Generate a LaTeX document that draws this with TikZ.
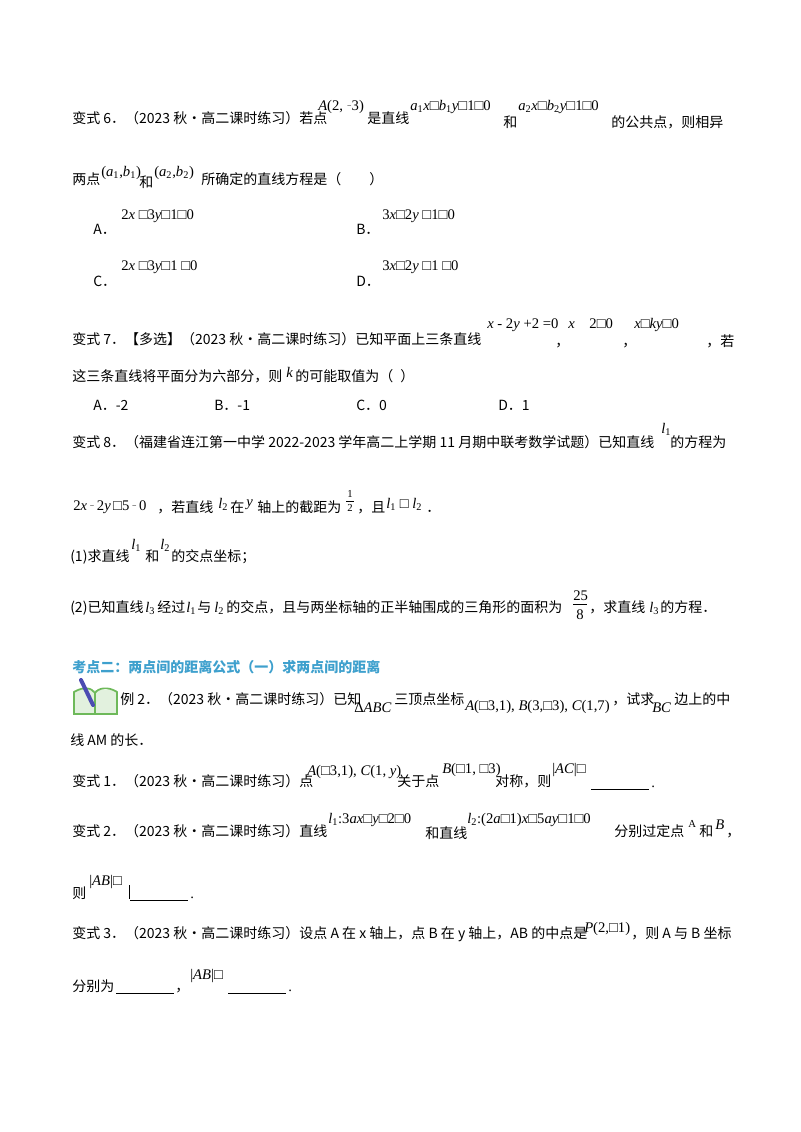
\documentclass[tikz,border=0pt]{standalone}
\usepackage{fontspec}
\setmainfont{Liberation Serif}
\newfontfamily\cjk{Noto Sans CJK SC}
\newfontfamily\dv{DejaVu Sans}
\definecolor{headblue}{RGB}{62,160,205}
\definecolor{bookgreen}{RGB}{110,185,90}
\newcommand{\mi}[1]{{\itshape #1}}
\newcommand{\um}{{\dv\fontsize{7}{8}\selectfont ⁻}}
\tikzset{
  txt/.style={anchor=base west,inner sep=0pt,font=\cjk\fontsize{10.5}{12}\selectfont},
  sup/.style={anchor=base west,inner sep=0pt,font=\fontsize{11}{12}\selectfont},
  blank/.style={line width=0.6pt},
}
\begin{document}
\begin{tikzpicture}[x=0.75pt,y=-0.75pt]
\useasboundingbox (0,0) rectangle (800,1132);
% 变式6
\node[txt] (q6a) at (72,123) {变式 6．（2023 秋·高二课时练习）若点};
\node[sup] (q6b) at (318,110) {\mi{A}(2, \um3)};
\node[txt] (q6c) at (367,123) {是直线};
\node[sup] (q6d) at (410,110) {\mi{a}\textsubscript{1}\mi{x}□\mi{b}\textsubscript{1}\mi{y}□1□0};
\node[txt] (q6e) at (503,127) {和};
\node[sup] (q6f) at (518,110) {\mi{a}\textsubscript{2}\mi{x}□\mi{b}\textsubscript{2}\mi{y}□1□0};
\node[txt] (q6g) at (611,127) {的公共点，则相异};
\node[txt] (q6h) at (72,184) {两点};
\node[sup] (q6i) at (101,176) {(\mi{a}\textsubscript{1},\mi{b}\textsubscript{1})};
\node[txt] (q6j) at (139,187) {和};
\node[sup] (q6k) at (154,176) {(\mi{a}\textsubscript{2},\mi{b}\textsubscript{2})};
\node[txt] (q6l) at (201,184) {所确定的直线方程是（\qquad ）};
\node[txt] (o6a) at (93,234) {A．};
\node[sup] at (121,219) {2\mi{x} □3\mi{y}□1□0};
\node[txt] (o6b) at (356,234) {B．};
\node[sup] at (382,219) {3\mi{x}□2\mi{y} □1□0};
\node[txt] (o6c) at (93,286) {C．};
\node[sup] at (121,270) {2\mi{x} □3\mi{y}□1 □0};
\node[txt] (o6d) at (356,286) {D．};
\node[sup] at (382,270) {3\mi{x}□2\mi{y} □1 □0};
% 变式7
\node[txt] (q7a) at (72,344) {变式 7．【多选】（2023 秋·高二课时练习）已知平面上三条直线};
\node[sup] at (487,328) {\mi{x} - 2\mi{y} +2 =0};
\node[txt] at (555,346) {，};
\node[sup] at (568,328) {\mi{x}\quad 2□0};
\node[txt] at (622,346) {，};
\node[sup] at (634,328) {\mi{x}□\mi{ky}□0};
\node[txt] at (706,346) {，若};
\node[txt] (q7b) at (72,381) {这三条直线将平面分为六部分，则};
\node[sup] at (286,377) {\mi{k}};
\node[txt] at (295,381) {的可能取值为（\enspace）};
\node[txt] at (93,410) {A．-2};
\node[txt] at (214,410) {B．-1};
\node[txt] at (356,410) {C．0};
\node[txt] at (498,410) {D．1};
% 变式8
\node[txt] (q8a) at (72,447) {变式 8．（福建省连江第一中学 2022-2023 学年高二上学期 11 月期中联考数学试题）已知直线};
\node[sup] at (661,433) {\mi{l}\textsubscript{1}};
\node[txt] at (670,447) {的方程为};
\node[sup] (q8b) at (73,510) {2\mi{x}\,\um\,2\mi{y}\,□5\,\um\,0};
\node[txt] at (157,512) {，若直线};
\node[sup] at (218,508) {\mi{l}\textsubscript{2}};
\node[txt] at (230,512) {在};
\node[sup] at (246,506) {\mi{y}};
\node[txt] at (257,512) {轴上的截距为};
\node[sup,font=\fontsize{8}{9}\selectfont] (half1) at (347,497) {1};
\draw (346,501) -- (354,501);
\node[sup,font=\fontsize{8}{9}\selectfont] (half2) at (347,511) {2};
\node[txt] at (357,512) {，且};
\node[sup] at (386,508) {\mi{l}\textsubscript{1} □ \mi{l}\textsubscript{2}};
\node[txt] at (426,512) {．};
\node[txt] (q8c) at (70,561) {(1)求直线};
\node[sup] at (131,549) {\mi{l}\textsubscript{1}};
\node[txt] at (145,561) {和};
\node[sup] at (160,549) {\mi{l}\textsubscript{2}};
\node[txt] at (171,561) {的交点坐标；};
\node[txt] (q8d) at (70,612) {(2)已知直线};
\node[sup] at (145,612) {\mi{l}\textsubscript{3}};
\node[txt] at (157,612) {经过};
\node[sup] at (186,612) {\mi{l}\textsubscript{1}};
\node[txt] at (197,612) {与};
\node[sup] at (214,612) {\mi{l}\textsubscript{2}};
\node[txt] at (226,612) {的交点，且与两坐标轴的正半轴围成的三角形的面积为};
\node[sup] (fr) at (573,600) {25};
\draw (573,604) -- (587,604);
\node[sup] at (576,619) {8};
\node[txt] at (589,612) {，求直线};
\node[sup] at (649,612) {\mi{l}\textsubscript{3}};
\node[txt] at (660,612) {的方程．};
% 考点二
\node[txt,text=headblue,font=\cjk\bfseries\fontsize{10.5}{12}\selectfont] (h2) at (72,672) {考点二：两点间的距离公式（一）求两点间的距离};
\fill[bookgreen!20] (74,690) rectangle (117,714);
\draw[bookgreen,line width=1.3pt] (74,692) .. controls (84,686) and (92,688) .. (95,693) .. controls (98,688) and (108,686) .. (117,692) -- (117,714) -- (74,714) -- cycle;
\draw[bookgreen,line width=1pt] (95,693) -- (95,714);
\draw[gray!60!blue,line width=3pt,line cap=round] (81,680) -- (93,705);
% 例2
\node[txt] (e2a) at (120,704) {例 2．（2023 秋·高二课时练习）已知};
\node[sup] at (354,712) {Δ\mi{ABC}};
\node[txt] at (394,704) {三顶点坐标};
\node[sup] at (465,710) {\mi{A}(□3,1), \mi{B}(3,□3), \mi{C}(1,7)};
\node[txt] at (612,704) {，试求};
\node[sup] at (652,712) {\mi{BC}};
\node[txt] at (674,704) {边上的中};
\node[txt] (e2b) at (70,745) {线 \mi{AM} 的长．};
% 变式1
\node[txt] (v1a) at (72,786) {变式 1．（2023 秋·高二课时练习）点};
\node[sup] at (307,775) {\mi{A}(□3,1), \mi{C}(1, \mi{y})};
\node[txt] at (397,786) {关于点};
\node[sup] at (442,773) {\mi{B}(□1, □3)};
\node[txt] at (495,786) {对称，则};
\node[sup] at (552,773) {|\mi{AC}|□};
\draw[blank] (591,789) -- (649,789);
\node[sup] at (651,787) {.};
% 变式2
\node[txt] (v2a) at (72,836) {变式 2．（2023 秋·高二课时练习）直线};
\node[sup] at (328,823) {\mi{l}\textsubscript{1}:3\mi{ax}□\mi{y}□2□0};
\node[txt] at (425,838) {和直线};
\node[sup] at (467,823) {\mi{l}\textsubscript{2}:(2\mi{a}□1)\mi{x}□5\mi{ay}□1□0};
\node[txt] at (614,836) {分别过定点};
\node[sup,font=\fontsize{8}{9}\selectfont] at (688,827) {A};
\node[txt] at (699,836) {和};
\node[sup] at (715,829) {\mi{B}};
\node[txt] at (726,836) {，};
\node[txt] (v2b) at (72,898) {则};
\node[sup] at (89,885) {|\mi{AB}|□};
\draw (129,885) -- (129,899);
\draw[blank] (130,900) -- (188,900);
\node[sup] at (190,898) {.};
% 变式3
\node[txt] (v3a) at (72,938) {变式 3．（2023 秋·高二课时练习）设点 \mi{A} 在 \mi{x} 轴上，点 \mi{B} 在 \mi{y} 轴上，\mi{AB} 的中点是};
\node[sup] at (584,932) {\mi{P}(2,□1)};
\node[txt] at (631,938) {，则 \mi{A} 与 \mi{B} 坐标};
\node[txt] (v3b) at (72,991) {分别为};
\draw[blank] (116,993) -- (174,993);
\node[txt] at (175,991) {，};
\node[sup] at (190,979) {|\mi{AB}|□};
\draw[blank] (228,993) -- (286,993);
\node[sup] at (288,991) {.};
\end{tikzpicture}
\end{document}
